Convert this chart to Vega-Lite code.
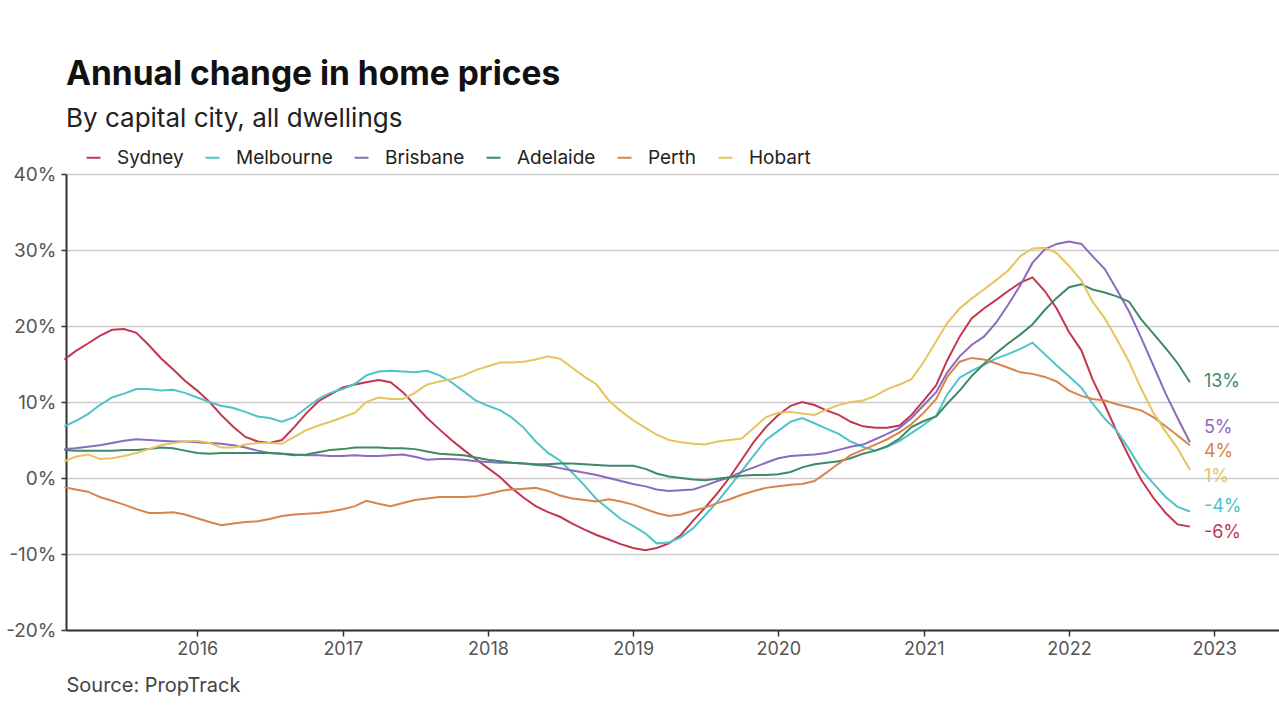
{
  "$schema": "https://vega.github.io/schema/vega-lite/v6.json",
  "width": 1213,
  "height": 456,
  "autosize": {"type": "none"},
  "padding": {"left": 66, "top": 174, "right": 0, "bottom": 90},
  "background": "white",
  "title": {
    "text": "Annual change in home prices",
    "subtitle": "By capital city, all dwellings",
    "anchor": "start",
    "frame": "group",
    "font": "Inter",
    "fontSize": 33.5,
    "fontWeight": "bold",
    "color": "#111111",
    "subtitleFont": "Inter",
    "subtitleFontSize": 26,
    "subtitleColor": "#222222",
    "subtitlePadding": 14,
    "offset": 15
  },
  "config": {"view": {"stroke": null}, "font": "Inter"},
  "datasets": {
    "prices": [
      {"date":"2015-02-01","Sydney":15.6,"Melbourne":6.8,"Brisbane":3.8,"Adelaide":3.7,"Perth":-1.2,"Hobart":2.2},
      {"date":"2015-03-01","Sydney":16.7,"Melbourne":7.5,"Brisbane":3.9,"Adelaide":3.6,"Perth":-1.5,"Hobart":2.8},
      {"date":"2015-04-01","Sydney":17.7,"Melbourne":8.4,"Brisbane":4.1,"Adelaide":3.6,"Perth":-1.8,"Hobart":3.1},
      {"date":"2015-05-01","Sydney":18.7,"Melbourne":9.6,"Brisbane":4.3,"Adelaide":3.6,"Perth":-2.5,"Hobart":2.5},
      {"date":"2015-06-01","Sydney":19.5,"Melbourne":10.6,"Brisbane":4.6,"Adelaide":3.6,"Perth":-3.0,"Hobart":2.6},
      {"date":"2015-07-01","Sydney":19.6,"Melbourne":11.1,"Brisbane":4.9,"Adelaide":3.7,"Perth":-3.5,"Hobart":2.9},
      {"date":"2015-08-01","Sydney":19.1,"Melbourne":11.7,"Brisbane":5.1,"Adelaide":3.7,"Perth":-4.1,"Hobart":3.3},
      {"date":"2015-09-01","Sydney":17.5,"Melbourne":11.7,"Brisbane":5.0,"Adelaide":3.8,"Perth":-4.6,"Hobart":3.8},
      {"date":"2015-10-01","Sydney":15.8,"Melbourne":11.5,"Brisbane":4.9,"Adelaide":4.0,"Perth":-4.6,"Hobart":4.3},
      {"date":"2015-11-01","Sydney":14.3,"Melbourne":11.6,"Brisbane":4.8,"Adelaide":3.9,"Perth":-4.5,"Hobart":4.6},
      {"date":"2015-12-01","Sydney":12.8,"Melbourne":11.2,"Brisbane":4.8,"Adelaide":3.6,"Perth":-4.8,"Hobart":4.8},
      {"date":"2016-01-01","Sydney":11.5,"Melbourne":10.6,"Brisbane":4.7,"Adelaide":3.3,"Perth":-5.3,"Hobart":4.9},
      {"date":"2016-02-01","Sydney":10.0,"Melbourne":10.0,"Brisbane":4.6,"Adelaide":3.2,"Perth":-5.8,"Hobart":4.6},
      {"date":"2016-03-01","Sydney":8.3,"Melbourne":9.5,"Brisbane":4.5,"Adelaide":3.3,"Perth":-6.2,"Hobart":4.0},
      {"date":"2016-04-01","Sydney":6.7,"Melbourne":9.2,"Brisbane":4.3,"Adelaide":3.3,"Perth":-6.0,"Hobart":4.0},
      {"date":"2016-05-01","Sydney":5.4,"Melbourne":8.7,"Brisbane":4.0,"Adelaide":3.3,"Perth":-5.8,"Hobart":4.4},
      {"date":"2016-06-01","Sydney":4.8,"Melbourne":8.1,"Brisbane":3.6,"Adelaide":3.3,"Perth":-5.7,"Hobart":4.6},
      {"date":"2016-07-01","Sydney":4.6,"Melbourne":7.9,"Brisbane":3.3,"Adelaide":3.3,"Perth":-5.4,"Hobart":4.6},
      {"date":"2016-08-01","Sydney":5.0,"Melbourne":7.4,"Brisbane":3.2,"Adelaide":3.2,"Perth":-5.0,"Hobart":4.5},
      {"date":"2016-09-01","Sydney":6.7,"Melbourne":8.0,"Brisbane":3.1,"Adelaide":3.0,"Perth":-4.8,"Hobart":5.4},
      {"date":"2016-10-01","Sydney":8.5,"Melbourne":9.2,"Brisbane":3.0,"Adelaide":3.1,"Perth":-4.7,"Hobart":6.3},
      {"date":"2016-11-01","Sydney":10.1,"Melbourne":10.4,"Brisbane":3.0,"Adelaide":3.4,"Perth":-4.6,"Hobart":6.9},
      {"date":"2016-12-01","Sydney":11.0,"Melbourne":11.2,"Brisbane":2.9,"Adelaide":3.7,"Perth":-4.4,"Hobart":7.4},
      {"date":"2017-01-01","Sydney":11.9,"Melbourne":11.7,"Brisbane":2.9,"Adelaide":3.8,"Perth":-4.1,"Hobart":8.0},
      {"date":"2017-02-01","Sydney":12.3,"Melbourne":12.4,"Brisbane":3.0,"Adelaide":4.0,"Perth":-3.7,"Hobart":8.6},
      {"date":"2017-03-01","Sydney":12.6,"Melbourne":13.5,"Brisbane":2.9,"Adelaide":4.0,"Perth":-3.0,"Hobart":10.0},
      {"date":"2017-04-01","Sydney":12.9,"Melbourne":14.0,"Brisbane":2.9,"Adelaide":4.0,"Perth":-3.4,"Hobart":10.6},
      {"date":"2017-05-01","Sydney":12.6,"Melbourne":14.1,"Brisbane":3.0,"Adelaide":3.9,"Perth":-3.7,"Hobart":10.4},
      {"date":"2017-06-01","Sydney":11.3,"Melbourne":14.0,"Brisbane":3.1,"Adelaide":3.9,"Perth":-3.3,"Hobart":10.4},
      {"date":"2017-07-01","Sydney":9.6,"Melbourne":13.9,"Brisbane":2.8,"Adelaide":3.8,"Perth":-2.9,"Hobart":11.2},
      {"date":"2017-08-01","Sydney":7.9,"Melbourne":14.1,"Brisbane":2.4,"Adelaide":3.5,"Perth":-2.7,"Hobart":12.3},
      {"date":"2017-09-01","Sydney":6.4,"Melbourne":13.5,"Brisbane":2.5,"Adelaide":3.2,"Perth":-2.5,"Hobart":12.7},
      {"date":"2017-10-01","Sydney":5.0,"Melbourne":12.6,"Brisbane":2.5,"Adelaide":3.1,"Perth":-2.5,"Hobart":13.0},
      {"date":"2017-11-01","Sydney":3.7,"Melbourne":11.4,"Brisbane":2.4,"Adelaide":3.0,"Perth":-2.5,"Hobart":13.5},
      {"date":"2017-12-01","Sydney":2.5,"Melbourne":10.2,"Brisbane":2.2,"Adelaide":2.7,"Perth":-2.4,"Hobart":14.2},
      {"date":"2018-01-01","Sydney":1.3,"Melbourne":9.5,"Brisbane":2.1,"Adelaide":2.4,"Perth":-2.1,"Hobart":14.7},
      {"date":"2018-02-01","Sydney":0.1,"Melbourne":8.9,"Brisbane":2.0,"Adelaide":2.2,"Perth":-1.7,"Hobart":15.2},
      {"date":"2018-03-01","Sydney":-1.3,"Melbourne":8.0,"Brisbane":2.0,"Adelaide":2.0,"Perth":-1.5,"Hobart":15.2},
      {"date":"2018-04-01","Sydney":-2.6,"Melbourne":6.6,"Brisbane":1.9,"Adelaide":1.9,"Perth":-1.4,"Hobart":15.3},
      {"date":"2018-05-01","Sydney":-3.7,"Melbourne":4.8,"Brisbane":1.7,"Adelaide":1.8,"Perth":-1.3,"Hobart":15.6},
      {"date":"2018-06-01","Sydney":-4.5,"Melbourne":3.3,"Brisbane":1.6,"Adelaide":1.8,"Perth":-1.7,"Hobart":16.0},
      {"date":"2018-07-01","Sydney":-5.1,"Melbourne":2.3,"Brisbane":1.3,"Adelaide":1.9,"Perth":-2.3,"Hobart":15.7},
      {"date":"2018-08-01","Sydney":-6.0,"Melbourne":0.7,"Brisbane":1.0,"Adelaide":1.9,"Perth":-2.7,"Hobart":14.5},
      {"date":"2018-09-01","Sydney":-6.8,"Melbourne":-1.0,"Brisbane":0.7,"Adelaide":1.8,"Perth":-2.9,"Hobart":13.3},
      {"date":"2018-10-01","Sydney":-7.5,"Melbourne":-2.8,"Brisbane":0.4,"Adelaide":1.7,"Perth":-3.1,"Hobart":12.3},
      {"date":"2018-11-01","Sydney":-8.1,"Melbourne":-4.1,"Brisbane":0.0,"Adelaide":1.6,"Perth":-2.8,"Hobart":10.2},
      {"date":"2018-12-01","Sydney":-8.7,"Melbourne":-5.4,"Brisbane":-0.4,"Adelaide":1.6,"Perth":-3.1,"Hobart":8.8},
      {"date":"2019-01-01","Sydney":-9.2,"Melbourne":-6.3,"Brisbane":-0.8,"Adelaide":1.6,"Perth":-3.5,"Hobart":7.6},
      {"date":"2019-02-01","Sydney":-9.5,"Melbourne":-7.3,"Brisbane":-1.1,"Adelaide":1.2,"Perth":-4.1,"Hobart":6.6},
      {"date":"2019-03-01","Sydney":-9.2,"Melbourne":-8.6,"Brisbane":-1.5,"Adelaide":0.6,"Perth":-4.6,"Hobart":5.7},
      {"date":"2019-04-01","Sydney":-8.6,"Melbourne":-8.5,"Brisbane":-1.7,"Adelaide":0.2,"Perth":-5.0,"Hobart":5.0},
      {"date":"2019-05-01","Sydney":-7.5,"Melbourne":-7.8,"Brisbane":-1.6,"Adelaide":0.0,"Perth":-4.8,"Hobart":4.7},
      {"date":"2019-06-01","Sydney":-5.6,"Melbourne":-6.6,"Brisbane":-1.5,"Adelaide":-0.2,"Perth":-4.3,"Hobart":4.5},
      {"date":"2019-07-01","Sydney":-3.9,"Melbourne":-4.9,"Brisbane":-1.0,"Adelaide":-0.3,"Perth":-3.9,"Hobart":4.4},
      {"date":"2019-08-01","Sydney":-2.0,"Melbourne":-3.1,"Brisbane":-0.4,"Adelaide":-0.1,"Perth":-3.3,"Hobart":4.8},
      {"date":"2019-09-01","Sydney":0.1,"Melbourne":-1.1,"Brisbane":0.1,"Adelaide":0.1,"Perth":-2.8,"Hobart":5.0},
      {"date":"2019-10-01","Sydney":2.4,"Melbourne":0.9,"Brisbane":0.8,"Adelaide":0.3,"Perth":-2.2,"Hobart":5.2},
      {"date":"2019-11-01","Sydney":4.8,"Melbourne":3.0,"Brisbane":1.4,"Adelaide":0.4,"Perth":-1.7,"Hobart":6.6},
      {"date":"2019-12-01","Sydney":6.7,"Melbourne":5.0,"Brisbane":2.0,"Adelaide":0.4,"Perth":-1.3,"Hobart":8.0},
      {"date":"2020-01-01","Sydney":8.3,"Melbourne":6.2,"Brisbane":2.6,"Adelaide":0.5,"Perth":-1.1,"Hobart":8.6},
      {"date":"2020-02-01","Sydney":9.5,"Melbourne":7.4,"Brisbane":2.9,"Adelaide":0.8,"Perth":-0.9,"Hobart":8.7},
      {"date":"2020-03-01","Sydney":10.0,"Melbourne":7.9,"Brisbane":3.0,"Adelaide":1.4,"Perth":-0.8,"Hobart":8.5},
      {"date":"2020-04-01","Sydney":9.6,"Melbourne":7.2,"Brisbane":3.1,"Adelaide":1.8,"Perth":-0.4,"Hobart":8.3},
      {"date":"2020-05-01","Sydney":8.9,"Melbourne":6.5,"Brisbane":3.3,"Adelaide":2.0,"Perth":0.7,"Hobart":9.0},
      {"date":"2020-06-01","Sydney":8.3,"Melbourne":5.8,"Brisbane":3.7,"Adelaide":2.2,"Perth":1.9,"Hobart":9.6},
      {"date":"2020-07-01","Sydney":7.4,"Melbourne":4.8,"Brisbane":4.1,"Adelaide":2.6,"Perth":3.0,"Hobart":10.0},
      {"date":"2020-08-01","Sydney":6.8,"Melbourne":4.1,"Brisbane":4.4,"Adelaide":3.2,"Perth":3.7,"Hobart":10.2},
      {"date":"2020-09-01","Sydney":6.6,"Melbourne":3.6,"Brisbane":5.1,"Adelaide":3.6,"Perth":4.4,"Hobart":10.8},
      {"date":"2020-10-01","Sydney":6.6,"Melbourne":4.1,"Brisbane":5.8,"Adelaide":4.2,"Perth":5.1,"Hobart":11.7},
      {"date":"2020-11-01","Sydney":6.9,"Melbourne":4.9,"Brisbane":6.6,"Adelaide":5.2,"Perth":6.0,"Hobart":12.3},
      {"date":"2020-12-01","Sydney":8.3,"Melbourne":5.9,"Brisbane":7.9,"Adelaide":6.7,"Perth":7.1,"Hobart":13.0},
      {"date":"2021-01-01","Sydney":10.2,"Melbourne":7.0,"Brisbane":9.6,"Adelaide":7.5,"Perth":8.6,"Hobart":15.3},
      {"date":"2021-02-01","Sydney":12.2,"Melbourne":8.2,"Brisbane":11.3,"Adelaide":8.1,"Perth":10.4,"Hobart":18.0},
      {"date":"2021-03-01","Sydney":15.5,"Melbourne":11.0,"Brisbane":13.9,"Adelaide":9.8,"Perth":13.3,"Hobart":20.4},
      {"date":"2021-04-01","Sydney":18.6,"Melbourne":13.2,"Brisbane":16.0,"Adelaide":11.5,"Perth":15.3,"Hobart":22.3},
      {"date":"2021-05-01","Sydney":21.0,"Melbourne":14.1,"Brisbane":17.5,"Adelaide":13.4,"Perth":15.8,"Hobart":23.6},
      {"date":"2021-06-01","Sydney":22.3,"Melbourne":14.9,"Brisbane":18.6,"Adelaide":15.0,"Perth":15.6,"Hobart":24.8},
      {"date":"2021-07-01","Sydney":23.4,"Melbourne":15.7,"Brisbane":20.4,"Adelaide":16.4,"Perth":15.1,"Hobart":26.0},
      {"date":"2021-08-01","Sydney":24.6,"Melbourne":16.3,"Brisbane":22.8,"Adelaide":17.7,"Perth":14.5,"Hobart":27.3},
      {"date":"2021-09-01","Sydney":25.7,"Melbourne":17.0,"Brisbane":25.4,"Adelaide":18.9,"Perth":13.9,"Hobart":29.2},
      {"date":"2021-10-01","Sydney":26.4,"Melbourne":17.8,"Brisbane":28.3,"Adelaide":20.2,"Perth":13.7,"Hobart":30.2},
      {"date":"2021-11-01","Sydney":24.6,"Melbourne":16.3,"Brisbane":30.1,"Adelaide":22.1,"Perth":13.3,"Hobart":30.3},
      {"date":"2021-12-01","Sydney":22.3,"Melbourne":14.8,"Brisbane":30.8,"Adelaide":23.7,"Perth":12.7,"Hobart":29.6},
      {"date":"2022-01-01","Sydney":19.2,"Melbourne":13.4,"Brisbane":31.1,"Adelaide":25.1,"Perth":11.5,"Hobart":27.9},
      {"date":"2022-02-01","Sydney":16.8,"Melbourne":11.9,"Brisbane":30.8,"Adelaide":25.5,"Perth":10.8,"Hobart":26.0},
      {"date":"2022-03-01","Sydney":13.0,"Melbourne":9.8,"Brisbane":29.2,"Adelaide":24.8,"Perth":10.4,"Hobart":23.2},
      {"date":"2022-04-01","Sydney":9.6,"Melbourne":7.8,"Brisbane":27.5,"Adelaide":24.4,"Perth":10.2,"Hobart":21.0},
      {"date":"2022-05-01","Sydney":6.1,"Melbourne":6.2,"Brisbane":24.8,"Adelaide":23.9,"Perth":9.7,"Hobart":18.3},
      {"date":"2022-06-01","Sydney":2.8,"Melbourne":3.8,"Brisbane":21.9,"Adelaide":23.2,"Perth":9.3,"Hobart":15.3},
      {"date":"2022-07-01","Sydney":-0.2,"Melbourne":1.2,"Brisbane":18.5,"Adelaide":20.9,"Perth":8.9,"Hobart":11.8},
      {"date":"2022-08-01","Sydney":-2.6,"Melbourne":-0.7,"Brisbane":14.8,"Adelaide":19.0,"Perth":8.0,"Hobart":8.6},
      {"date":"2022-09-01","Sydney":-4.6,"Melbourne":-2.5,"Brisbane":11.1,"Adelaide":17.1,"Perth":6.8,"Hobart":6.1},
      {"date":"2022-10-01","Sydney":-6.1,"Melbourne":-3.8,"Brisbane":7.9,"Adelaide":15.1,"Perth":5.6,"Hobart":3.9},
      {"date":"2022-11-01","Sydney":-6.4,"Melbourne":-4.4,"Brisbane":4.7,"Adelaide":12.6,"Perth":4.3,"Hobart":1.1}
    ],
    "endLabels": [
      {"city":"Adelaide","date":"2022-11-01","value":12.6,"label":"13%"},
      {"city":"Brisbane","date":"2022-11-01","value":4.7,"label":"5%"},
      {"city":"Perth","date":"2022-11-01","value":4.3,"label":"4%"},
      {"city":"Hobart","date":"2022-11-01","value":1.1,"label":"1%"},
      {"city":"Melbourne","date":"2022-11-01","value":-4.4,"label":"-4%"},
      {"city":"Sydney","date":"2022-11-01","value":-6.4,"label":"-6%"}
    ]
  },
  "layer": [
    {
      "data": {"name": "prices"},
      "transform": [
        {"fold": ["Sydney","Melbourne","Brisbane","Adelaide","Perth","Hobart"], "as": ["city","value"]}
      ],
      "mark": {"type": "line", "strokeWidth": 2},
      "encoding": {
        "x": {
          "field": "date", "type": "temporal",
          "scale": {"domain": ["2015-02-05","2023-06-13"]},
          "axis": {
            "format": "%Y",
            "tickCount": {"interval": "year", "step": 1},
            "grid": false,
            "domainColor": "#333333", "domainWidth": 2,
            "tickColor": "#333333", "tickSize": 6, "tickWidth": 1.5,
            "labelFont": "Inter", "labelFontSize": 18, "labelColor": "#555555", "labelPadding": 4,
            "title": "Source: PropTrack",
            "titleFont": "Inter", "titleFontSize": 20, "titleFontWeight": "normal", "titleColor": "#444444",
            "titleAnchor": "start", "titleAlign": "left", "titleBaseline": "alphabetic",
            "titleX": 0, "titleY": 61
          }
        },
        "y": {
          "field": "value", "type": "quantitative",
          "scale": {"domain": [-20, 40], "nice": false, "zero": false},
          "axis": {
            "values": [-20,-10,0,10,20,30,40],
            "labelExpr": "datum.value + '%'",
            "grid": true, "gridColor": "#cccccc", "gridWidth": 1.5,
            "domainColor": "#333333", "domainWidth": 2,
            "tickColor": "#333333", "tickSize": 5, "tickWidth": 1.5,
            "labelFont": "Inter", "labelFontSize": 19, "labelColor": "#555555", "labelPadding": 5,
            "title": null
          }
        },
        "color": {
          "field": "city", "type": "nominal",
          "scale": {
            "domain": ["Sydney","Melbourne","Brisbane","Adelaide","Perth","Hobart"],
            "range": ["#c3364f","#4fc3c9","#8a6bbd","#3d8a66","#d9844d","#e6c45e"]
          },
          "legend": {
            "orient": "none", "legendX": 18, "legendY": -26,
            "direction": "horizontal", "title": null,
            "symbolType": "stroke", "symbolSize": 196, "symbolStrokeWidth": 2,
            "labelFont": "Inter", "labelFontSize": 19, "labelColor": "#222222",
            "labelOffset": 14, "columnPadding": 17
          }
        }
      }
    },
    {
      "mark": {"type": "rule", "color": "#333333", "strokeWidth": 1.5},
      "encoding": {"y": {"datum": 0}}
    },
    {
      "data": {"name": "endLabels"},
      "mark": {
        "type": "text", "align": "left", "baseline": "middle", "dx": 14,
        "font": "Inter", "fontSize": 18,
        "dy": {"expr": "datum.city == 'Brisbane' ? -14 : datum.city == 'Perth' ? 7 : datum.city == 'Hobart' ? 7 : datum.city == 'Melbourne' ? -4 : datum.city == 'Sydney' ? 6 : 0"}
      },
      "encoding": {
        "x": {"field": "date", "type": "temporal"},
        "y": {"field": "value", "type": "quantitative"},
        "text": {"field": "label"},
        "color": {"field": "city", "type": "nominal", "legend": null}
      }
    }
  ]
}
